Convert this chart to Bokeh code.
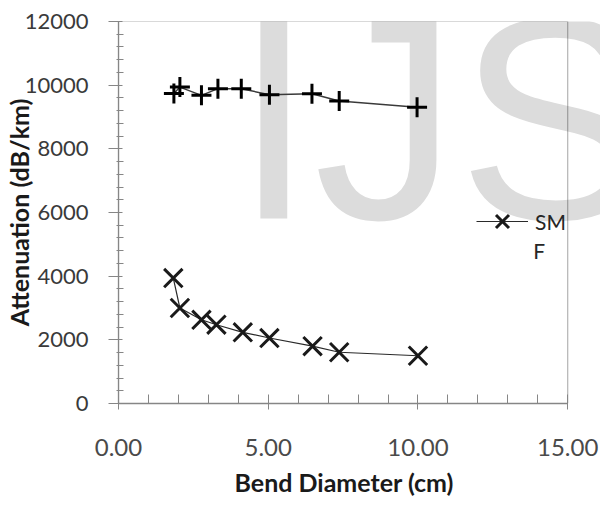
from bokeh.plotting import figure
from bokeh.models import (Range1d, FixedTicker, NumeralTickFormatter, PrintfTickFormatter,
                          Legend, LegendItem, Label, BoxAnnotation, Title)
from bokeh.embed import file_html
from bokeh.resources import INLINE

# ---- data ----
dia_plus = [1.85, 2.05, 2.77, 3.32, 4.10, 5.04, 6.46, 7.37, 9.97]
att_plus = [9740, 9940, 9680, 9890, 9890, 9700, 9730, 9500, 9310]
dia_smf = [1.83, 2.05, 2.77, 3.27, 4.15, 5.04, 6.48, 7.37, 10.0]
att_smf = [3940, 3000, 2630, 2475, 2235, 2057, 1800, 1610, 1500]
x_major = [0, 5, 10, 15]
x_minor = [1, 2, 3, 4, 6, 7, 8, 9, 11, 12, 13, 14]
y_major = [0, 2000, 4000, 6000, 8000, 10000, 12000]
y_minor = [v for v in range(0, 12001, 400) if v % 2000 != 0]
legend_label = "SM"
legend_label_wrap = "F"
x_title = "Bend Diameter (cm)"
y_title = "Attenuation (dB/km)"
watermark = "IJS"

FONT = "Lato"
X0, X1 = x_major[0], x_major[-1]
Y0, Y1 = y_major[0], y_major[-1]

# frame is extended to the right canvas edge so the watermark is not clipped;
# the x axis and the plot-area box stop at the chart's own limit
p = figure(width=600, height=506, output_backend="svg", toolbar_location=None, title=None,
           x_range=Range1d(X0, 16.095), y_range=Range1d(Y0, Y1),
           min_border_left=115, min_border_right=0, min_border_top=21, min_border_bottom=103)
p.outline_line_color = None
p.xgrid.visible = False
p.ygrid.visible = False
p.background_fill_color = "white"
p.border_fill_color = "white"

wm = Label(x=3.85, y=8950, text=watermark, text_font="Liberation Sans", text_font_size="288px",
           text_color="#dcdcdc", text_baseline="alphabetic", text_align="left", level="underlay")
p.add_layout(wm)

box = BoxAnnotation(left=X0, right=X1, bottom=Y0, top=Y1, fill_alpha=0,
                    line_color="black", line_width=1.2, level="underlay")
p.add_layout(box)

# series
p.line(dia_plus, att_plus, line_color="#3a3a3a", line_width=1.5)
p.scatter(dia_plus, att_plus, marker="cross", size=20, line_color="black", line_width=3)
l2 = p.line(dia_smf, att_smf, line_color="#2a2a2a", line_width=1.2)
s2 = p.scatter(dia_smf, att_smf, marker="x", size=26, line_color="#1a1a1a", line_width=3)

# x axis
xa = p.xaxis[0]
xa.bounds = (X0, X1)
xa.ticker = FixedTicker(ticks=x_major, minor_ticks=x_minor)
xa.formatter = NumeralTickFormatter(format="0.00")
xa.axis_line_color = "#868686"
xa.axis_line_width = 1.3
xa.major_tick_line_color = "#868686"
xa.minor_tick_line_color = "#868686"
xa.major_tick_in = 9
xa.major_tick_out = 6
xa.minor_tick_in = 9
xa.minor_tick_out = 0
xa.major_label_standoff = 29
xa.major_label_text_font = FONT
xa.major_label_text_font_size = "24px"
xa.major_label_text_color = "#4a4a4a"

# x-axis title placed under the chart's own x extent (0..15)
xt = Title(text=x_title, align="left", offset=116, standoff=12, text_font=FONT,
           text_font_style="bold", text_font_size="25px", text_color="#1a1a1a")
p.add_layout(xt, "below")

# y axis
ya = p.yaxis[0]
ya.bounds = (Y0, Y1)
ya.ticker = FixedTicker(ticks=y_major, minor_ticks=y_minor)
ya.formatter = PrintfTickFormatter(format="%d")
ya.axis_line_color = "#868686"
ya.axis_line_width = 1.3
ya.major_tick_line_color = "#868686"
ya.minor_tick_line_color = "#868686"
ya.major_tick_in = 4
ya.major_tick_out = 10
ya.minor_tick_in = 5
ya.minor_tick_out = 2
ya.major_label_standoff = 20
ya.major_label_text_font = FONT
ya.major_label_text_font_size = "22px"
ya.major_label_text_color = "#3a3a3a"
ya.axis_label = y_title
ya.axis_label_text_font = FONT
ya.axis_label_text_font_style = "bold"
ya.axis_label_text_font_size = "25px"
ya.axis_label_text_color = "#1a1a1a"
ya.axis_label_standoff = -12

leg = Legend(items=[LegendItem(label=legend_label, renderers=[l2, s2])],
             location=(358, 159), glyph_width=52, glyph_height=46, label_standoff=7,
             padding=0, margin=0, spacing=0, border_line_color=None, background_fill_alpha=0,
             label_text_font=FONT, label_text_font_size="21px", label_text_color="#262626")
p.add_layout(leg, "center")

f_label = Label(x=13.85, y=4800, text=legend_label_wrap, text_font=FONT, text_font_size="21px",
                text_color="#262626", text_baseline="middle", text_align="left")
p.add_layout(f_label)

open("out.html", "w").write(file_html(p, INLINE))
